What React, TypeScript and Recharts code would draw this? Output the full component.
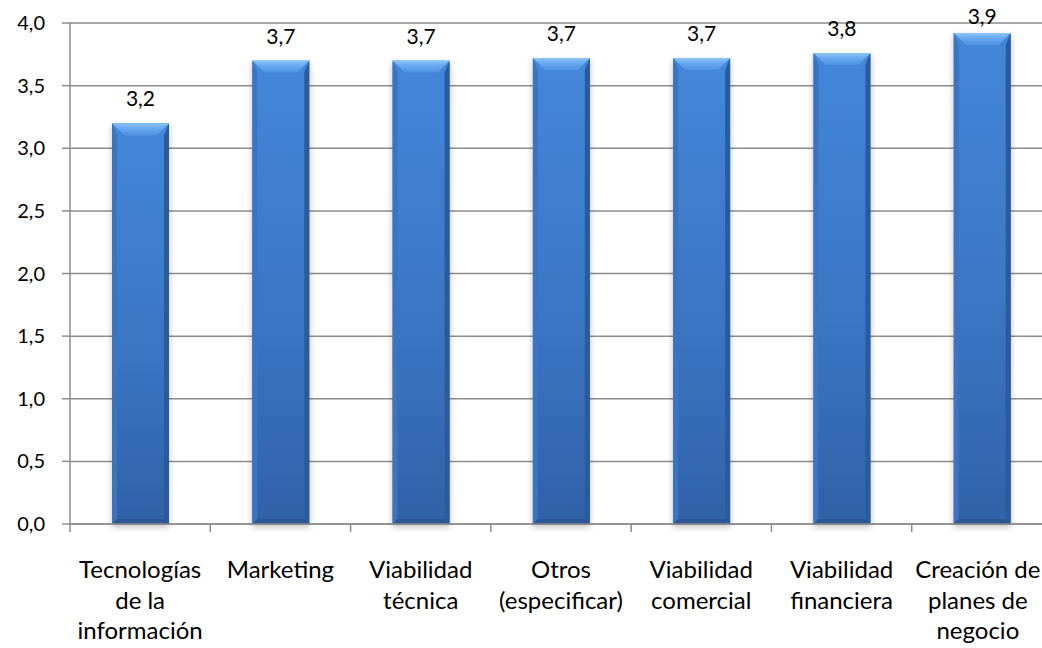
import React from "react";
import { BarChart, Bar, XAxis, YAxis, CartesianGrid, LabelList } from "recharts";

// Categories and mean scores
const categories = [
  "Tecnologías\nde la\ninformación",
  "Marketing",
  "Viabilidad\ntécnica",
  "Otros\n(especificar)",
  "Viabilidad\ncomercial",
  "Viabilidad\nfinanciera",
  "Creación de\nplanes de\nnegocio",
];
const scores = [3.2, 3.7, 3.7, 3.72, 3.72, 3.76, 3.92];
const yTicks = [0, 0.5, 1, 1.5, 2, 2.5, 3, 3.5, 4];

const data = categories.map((name, i) => ({ name, value: scores[i] }));

const FONT = "Lato, 'Open Sans', sans-serif";
const GRID = "#8c8c8c";

const fmt = (v: number) => v.toFixed(1).replace(".", ",");

// bar with a bevelled top like the old office 3D style
const BevelBar = (props: any) => {
  const { x, y, width, height } = props;
  if (!height || height <= 0) return null;
  const b = Math.min(12, height / 2);
  const s = 5;
  return (
    <g filter="url(#barShadow)">
      <rect x={x} y={y} width={width} height={height} fill="url(#barBody)" />
      {/* side bevels */}
      <polygon
        points={`${x},${y} ${x + s},${y + b} ${x + s},${y + height - s} ${x},${y + height}`}
        fill="#3a74c2"
      />
      <polygon
        points={`${x + width},${y} ${x + width - s},${y + b} ${x + width - s},${y + height - s} ${x + width},${y + height}`}
        fill="#2c5b9d"
      />
      {/* bottom bevel */}
      <polygon
        points={`${x},${y + height} ${x + s},${y + height - s} ${x + width - s},${y + height - s} ${x + width},${y + height}`}
        fill="#2b5796"
      />
      {/* top bevel */}
      <polygon
        points={`${x},${y} ${x + width},${y} ${x + width - b},${y + b} ${x + b},${y + b}`}
        fill="url(#barTop)"
      />
    </g>
  );
};

// value label above the bar, pushed down when it would leave the chart (as Excel does)
const ValueLabel = (props: any) => {
  const { x, y, width, value } = props;
  const baseline = Math.max(y - 17, 24);
  return (
    <text
      x={x + width / 2}
      y={baseline}
      textAnchor="middle"
      fontFamily={FONT}
      fontSize={21}
      fill="#000"
    >
      {fmt(Number(value))}
    </text>
  );
};

const CategoryTick = (props: any) => {
  const { x, y, payload, index } = props;
  const half = payload && payload.offset ? payload.offset : 70;
  const lines = String(payload.value).split("\n");
  // last label sits against the right edge, nudge it in a little
  const tx = index === categories.length - 1 ? x - 4 : x;
  return (
    <g>
      <line x1={x - half} y1={y - 8} x2={x - half} y2={y} stroke={GRID} strokeWidth={1.5} />
      <text x={tx} y={y + 46} textAnchor="middle" fontFamily={FONT} fontSize={24} fill="#000">
        {lines.map((l, i) => (
          <tspan key={i} x={tx} dy={i === 0 ? 0 : 30.5}>
            {l}
          </tspan>
        ))}
      </text>
    </g>
  );
};

export default function App() {
  return (
    <div
      style={{
        position: "fixed",
        left: 0,
        top: 0,
        width: 1042,
        height: 648,
        overflow: "hidden",
        background: "#fff",
      }}
    >
      <BarChart
        width={1052}
        height={648}
        data={data}
        margin={{ top: 23, right: 0, left: 0, bottom: 0 }}
        barSize={57}
      >
        <defs>
          <linearGradient id="barBody" x1="0" y1="0" x2="0" y2="1">
            <stop offset="0%" stopColor="#4487da" />
            <stop offset="55%" stopColor="#3b76c4" />
            <stop offset="100%" stopColor="#3161a8" />
          </linearGradient>
          <linearGradient id="barTop" x1="0" y1="0" x2="0" y2="1">
            <stop offset="0%" stopColor="#8cc6f8" />
            <stop offset="40%" stopColor="#6aaaf0" />
            <stop offset="100%" stopColor="#4f91e2" />
          </linearGradient>
          <filter id="barShadow" x="-20%" y="-5%" width="140%" height="115%">
            <feDropShadow dx="0" dy="3" stdDeviation="3" floodColor="#000" floodOpacity="0.25" />
          </filter>
        </defs>
        <CartesianGrid vertical={false} stroke={GRID} strokeWidth={1.5} />
        <XAxis
          dataKey="name"
          interval={0}
          height={124}
          axisLine={{ stroke: GRID, strokeWidth: 1.5 }}
          tickLine={false}
          tick={<CategoryTick />}
        />
        <YAxis
          domain={[0, 4]}
          ticks={yTicks}
          width={70}
          tickFormatter={fmt}
          axisLine={{ stroke: GRID, strokeWidth: 1.5 }}
          tickLine={{ stroke: GRID, strokeWidth: 1.5 }}
          tickSize={8}
          tickMargin={17}
          tick={{ fontFamily: FONT, fontSize: 20, fill: "#000" }}
        />
        <Bar dataKey="value" shape={<BevelBar />} isAnimationActive={false}>
          <LabelList dataKey="value" content={<ValueLabel />} />
        </Bar>
      </BarChart>
    </div>
  );
}
